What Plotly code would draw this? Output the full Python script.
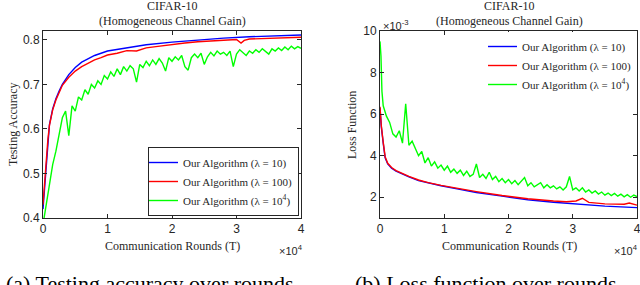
import plotly.graph_objects as go

# ---------------- data ----------------
# (a) testing accuracy
acc_blue_T = [0, 250, 500, 750, 1000, 1500, 2000, 2500, 3000, 4000, 5000, 6000, 8000, 10000,
              13000, 16000, 20000, 24000, 28000, 32000, 36000, 40000]
acc_blue = [0.42, 0.47, 0.53, 0.575, 0.61, 0.645, 0.668, 0.685, 0.70, 0.722, 0.738, 0.75, 0.765,
            0.775, 0.782, 0.789, 0.795, 0.80, 0.804, 0.807, 0.809, 0.811]

acc_red_T = [0, 250, 500, 750, 1000, 1500, 2000, 2500, 3000, 4000, 5000, 6000, 7000, 8000, 9000,
             10000, 11500, 13000, 14500, 16000, 17500, 19000, 20500, 22000, 24000, 26000, 28000,
             30000, 30700, 31200, 32000, 34000, 36000, 38000, 40000]
acc_red = [0.43, 0.48, 0.535, 0.575, 0.608, 0.643, 0.665, 0.683, 0.698, 0.716, 0.73, 0.74, 0.748,
           0.755, 0.76, 0.766, 0.77, 0.776, 0.775, 0.782, 0.785, 0.788, 0.79, 0.793, 0.796, 0.798,
           0.80, 0.801, 0.793, 0.799, 0.802, 0.803, 0.804, 0.806, 0.806]

acc_green_T = list(range(0, 40001, 500))
acc_green = [0.385, 0.43, 0.47, 0.52, 0.55, 0.59, 0.625, 0.64, 0.585, 0.652,
             0.64, 0.672, 0.665, 0.688, 0.678, 0.70, 0.692, 0.708, 0.70, 0.72,
             0.712, 0.728, 0.718, 0.735, 0.722, 0.74, 0.73, 0.742, 0.735, 0.705,
             0.745, 0.738, 0.752, 0.742, 0.755, 0.745, 0.758, 0.748, 0.73, 0.76,
             0.752, 0.762, 0.755, 0.765, 0.74, 0.732, 0.76, 0.768, 0.76, 0.77,
             0.745, 0.762, 0.772, 0.764, 0.775, 0.768, 0.772, 0.765, 0.775, 0.74,
             0.768, 0.778, 0.772, 0.765, 0.775, 0.77, 0.778, 0.772, 0.78, 0.775,
             0.768, 0.78, 0.775, 0.782, 0.776, 0.784, 0.778, 0.786, 0.78, 0.785,
             0.781]

# (b) loss function, in units of 1e-3
loss_blue_T = [0, 200, 500, 800, 1200, 1800, 2500, 3500, 4500, 6000, 7500, 9500, 12000, 15000,
               19000, 23000, 27000, 31000, 35000, 40000]
loss_blue = [6.3, 5.4, 4.6, 3.9, 3.6, 3.4, 3.25, 3.1, 2.98, 2.8, 2.68, 2.55, 2.4, 2.23, 2.05,
             1.88, 1.76, 1.66, 1.57, 1.5]

loss_red_T = [0, 200, 500, 800, 1200, 1800, 2500, 3500, 4500, 6000, 7500, 9500, 12000, 15000,
              19000, 23000, 27000, 29000, 30500, 31500, 32500, 35000, 38000, 38800, 40000]
loss_red = [6.35, 5.45, 4.65, 3.95, 3.63, 3.43, 3.28, 3.13, 3.0, 2.83, 2.7, 2.57, 2.43, 2.27,
            2.08, 1.93, 1.82, 1.78, 1.82, 1.95, 1.75, 1.68, 1.66, 1.72, 1.62]

loss_green_T = [0, 150, 300] + list(range(500, 40001, 500))
loss_green = [9.5, 8.8, 7.1,
              6.4, 5.9, 5.6, 5.05, 4.9, 5.2, 4.6, 6.5, 4.5, 4.7,
              4.3, 4.0, 4.2, 3.65, 3.9, 3.5, 3.7, 3.4, 3.55, 3.3,
              3.5, 3.2, 3.35, 3.15, 3.3, 3.05, 3.25, 3.0, 3.1, 3.6,
              2.95, 3.1, 2.9, 3.2, 2.85, 3.0, 2.75, 2.9, 2.7, 2.85,
              2.65, 2.8, 2.6, 2.75, 2.95, 2.55, 2.7, 2.5, 2.6, 2.7,
              2.45, 2.6, 2.45, 2.55, 2.4, 2.5, 2.35, 2.5, 3.0, 2.35,
              2.45, 2.3, 2.45, 2.25, 2.35, 2.2, 2.3, 2.15, 2.25, 2.1,
              2.2, 2.08, 2.18, 2.05, 2.15, 2.02, 2.12, 2.0, 2.1, 2.03]

series_names = ["Our Algorithm (λ = 10)", "Our Algorithm (λ = 100)", "Our Algorithm (λ = 10<sup>4</sup>)"]
x_tickvals = [0, 10000, 20000, 30000, 40000]
x_ticktext = ["0", "1", "2", "3", "4"]
acc_ticks = [0.4, 0.5, 0.6, 0.7, 0.8]
loss_ticks = [2, 4, 6, 8, 10]

# ---------------- figure ----------------
W, H = 640, 285
SERIF = "Liberation Serif"
SANS = "Liberation Sans"
colors = ["#0000FF", "#FF0000", "#00FF00"]

fig = go.Figure()

for T, v, c, n in [(acc_blue_T, acc_blue, colors[0], series_names[0]),
                   (acc_red_T, acc_red, colors[1], series_names[1]),
                   (acc_green_T, acc_green, colors[2], series_names[2])]:
    fig.add_trace(go.Scatter(x=T, y=v, mode="lines", name=n, line=dict(color=c, width=1.4),
                             xaxis="x", yaxis="y", legend="legend"))

for T, v, c, n in [(loss_blue_T, loss_blue, colors[0], series_names[0]),
                   (loss_red_T, loss_red, colors[1], series_names[1]),
                   (loss_green_T, loss_green, colors[2], series_names[2])]:
    fig.add_trace(go.Scatter(x=T, y=v, mode="lines", name=n, line=dict(color=c, width=1.4),
                             xaxis="x2", yaxis="y2", legend="legend2"))

axis_common = dict(showline=True, linecolor="#262626", linewidth=1, mirror="ticks",
                   ticks="inside", ticklen=4, tickcolor="#262626", showgrid=False,
                   zeroline=False, automargin=False, ticklabeloverflow="allow",
                   tickfont=dict(family=SANS, size=12, color="#262626"))

def py(p):  # pixel y -> paper
    return 1 - p / H

def px(p):
    return p / W

legend_font = dict(family=SERIF, size=11, color="#262626")

fig.update_layout(
    width=W, height=H,
    margin=dict(l=0, r=0, t=0, b=0, pad=0, autoexpand=False),
    paper_bgcolor="white", plot_bgcolor="white",
    showlegend=True,
    xaxis=dict(domain=[px(43), px(301)], range=[0, 40000], tickvals=x_tickvals,
               ticktext=x_ticktext, anchor="y", **axis_common),
    yaxis=dict(domain=[py(218), py(31)], range=[0.4, 0.82], tickvals=acc_ticks,
               ticktext=["0.4", "0.5", "0.6", "0.7", "0.8"], anchor="x", **axis_common),
    xaxis2=dict(domain=[px(380), px(637)], range=[0, 40000], tickvals=x_tickvals,
                ticktext=x_ticktext, anchor="y2", **axis_common),
    yaxis2=dict(domain=[py(218), py(31)], range=[1.0, 10.0], tickvals=loss_ticks,
                ticktext=[str(t) for t in loss_ticks], anchor="x2", **axis_common),
    legend=dict(x=px(299), y=py(216), xanchor="right", yanchor="bottom",
                bgcolor="white", bordercolor="#262626", borderwidth=1,
                font=legend_font, itemwidth=30, tracegroupgap=0, indentation=-6),
    legend2=dict(x=px(637), y=py(32), xanchor="right", yanchor="top",
                 bgcolor="white", bordercolor="#262626", borderwidth=0,
                 font=legend_font, itemwidth=30, tracegroupgap=0, indentation=-6),
)

ann = []
tf = dict(family=SERIF, size=12, color="#262626")
for cx, capx, capt in [(172, 150, "(a) Testing accuracy over rounds"),
                       (509, 486, "(b) Loss function over rounds")]:
    ann.append(dict(x=px(cx), y=py(6), text="CIFAR-10", showarrow=False, xref="paper",
                    yref="paper", font=tf, xanchor="center", yanchor="middle"))
    ann.append(dict(x=px(cx), y=py(21), text="(Homogeneous Channel Gain)", showarrow=False,
                    xref="paper", yref="paper", font=tf, xanchor="center", yanchor="middle"))
    ann.append(dict(x=px(cx), y=py(246), text="Communication Rounds (T)", showarrow=False,
                    xref="paper", yref="paper", font=tf, xanchor="center", yanchor="middle"))
    ann.append(dict(x=px(capx), y=py(283), text=capt, showarrow=False, xref="paper",
                    yref="paper", font=dict(family=SERIF, size=22, color="black"),
                    xanchor="center", yanchor="middle"))

ann.append(dict(x=px(13), y=py(125), text="Testing Accuracy", textangle=-90, showarrow=False,
                xref="paper", yref="paper", font=tf, xanchor="center", yanchor="middle"))
ann.append(dict(x=px(352), y=py(125), text="Loss Function", textangle=-90, showarrow=False,
                xref="paper", yref="paper", font=tf, xanchor="center", yanchor="middle"))
ann.append(dict(x=px(305), y=py(250), text="×10<sup>4</sup>", showarrow=False, xref="paper",
                yref="paper", font=dict(family=SANS, size=11, color="#262626"),
                xanchor="right", yanchor="middle"))
ann.append(dict(x=px(640), y=py(250), text="×10<sup>4</sup>", showarrow=False, xref="paper",
                yref="paper", font=dict(family=SANS, size=11, color="#262626"),
                xanchor="right", yanchor="middle"))
ann.append(dict(x=px(381), y=py(25), text="×10<sup>-3</sup>", showarrow=False, xref="paper",
                yref="paper", font=dict(family=SANS, size=11, color="#262626"),
                xanchor="left", yanchor="middle"))

fig.update_layout(annotations=ann)
fig.write_html("out.html", config={"displayModeBar": False},
               post_script="document.body.style.margin='0';document.body.style.overflow='hidden';")
